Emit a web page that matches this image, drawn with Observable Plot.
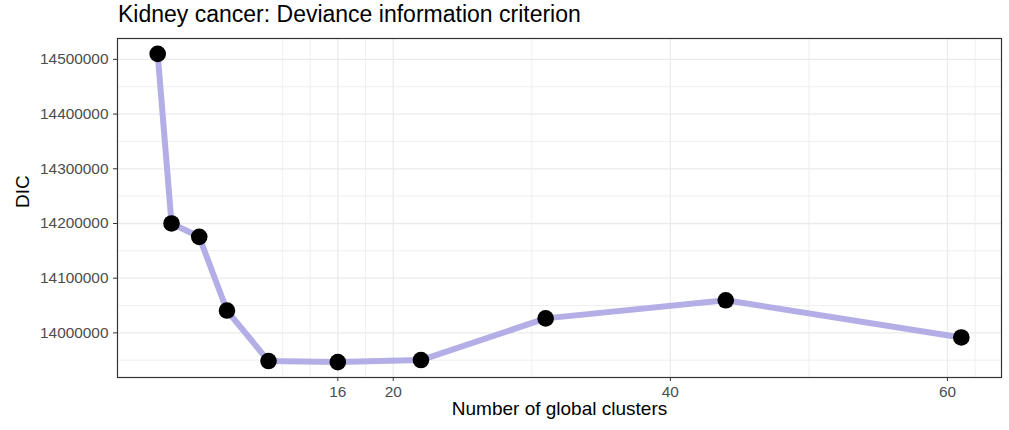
<!DOCTYPE html>
<html>
<head>
<meta charset="utf-8">
<script src="https://cdn.jsdelivr.net/npm/d3@7"></script>
<script src="https://cdn.jsdelivr.net/npm/@observablehq/plot@0.6"></script>
<style>
  html, body { margin: 0; padding: 0; background: #ffffff; }
  #chart { width: 1009px; font-family: "Liberation Sans", Arial, Helvetica, sans-serif; }
  #title {
    height: 37px; box-sizing: border-box; padding: 3px 0 0 118px;
    font-size: 23px; line-height: 23px; color: #000000; white-space: nowrap;
  }
  #chart svg [aria-label$="tick label"] text { fill: #4D4D4D; }
  #chart svg [aria-label$="-axis tick"] path { stroke: #333333; }
</style>
</head>
<body>
<div id="chart">
  <div id="title">Kidney cancer: Deviance information criterion</div>
</div>
<script>
// Number of global clusters and the DIC of each fitted model
const clusters = [3, 4, 6, 8, 11, 16, 22, 31, 44, 61];
const dic = [14510000, 14200000, 14175600, 14040800, 13948500, 13946600, 13950300, 14026500, 14059600, 13991600];

// Axis breaks (major, labelled) and minor gridlines
const xBreaks = [16, 20, 40, 60];
const xMinor = [12, 14, 18, 30, 50, 62];
const yBreaks = [14000000, 14100000, 14200000, 14300000, 14400000, 14500000];
const yMinor = [13950000, 14050000, 14150000, 14250000, 14350000, 14450000];

const xLabel = "Number of global clusters";
const yLabel = "DIC";

const data = clusters.map((k, i) => ({k, dic: dic[i]}));

// 5% padding on each side of the data range
function expand([lo, hi], f = 0.05) {
  const d = (hi - lo) * f;
  return [lo - d, hi + d];
}

const grid = "#EBEBEB";

const chart = Plot.plot({
  width: 1009,
  height: 393,
  marginLeft: 117,
  marginRight: 8,
  marginTop: 1,
  marginBottom: 53,
  style: {fontFamily: "'Liberation Sans', Arial, Helvetica, sans-serif", background: "#ffffff", color: "#000000"},
  x: {domain: expand(d3.extent(clusters))},
  y: {domain: expand(d3.extent(dic))},
  marks: [
    Plot.ruleX(xMinor, {stroke: grid, strokeWidth: 0.8}),
    Plot.ruleY(yMinor, {stroke: grid, strokeWidth: 0.8}),
    Plot.ruleX(xBreaks, {stroke: grid, strokeWidth: 1.3}),
    Plot.ruleY(yBreaks, {stroke: grid, strokeWidth: 1.3}),
    Plot.line(data, {x: "k", y: "dic", stroke: "#b3afe6", strokeWidth: 6, strokeLinejoin: "round"}),
    Plot.dot(data, {x: "k", y: "dic", r: 8.3, fill: "#000000", stroke: "none"}),
    Plot.frame({stroke: "#333333", strokeWidth: 1.2}),
    Plot.axisX(xBreaks, {
      tickSize: 4, tickPadding: 5, fontSize: 15.4, label: null,
      tickFormat: d => String(d)
    }),
    Plot.axisY(yBreaks, {
      tickSize: 4, tickPadding: 5, fontSize: 15.4, label: null,
      tickFormat: d => String(d)
    }),
    Plot.text([xLabel], {
      frameAnchor: "bottom", dy: 37.5, fontSize: 19, fill: "#000000", text: d => d
    }),
    Plot.text([yLabel], {
      frameAnchor: "left", dx: -95, rotate: -90, fontSize: 19, fill: "#000000", text: d => d
    })
  ]
});

document.getElementById("chart").appendChild(chart);
</script>
</body>
</html>
